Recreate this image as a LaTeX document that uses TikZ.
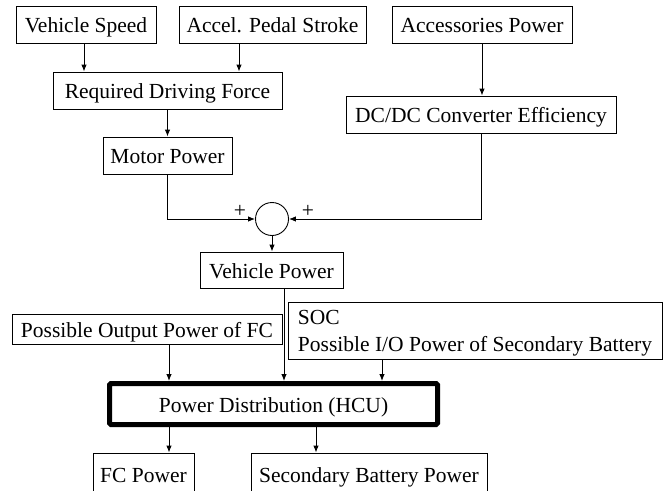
\documentclass[tikz,border=0pt]{standalone}
\usepackage{fontspec}
\setmainfont{Liberation Serif}
\usetikzlibrary{arrows.meta,calc}
\begin{document}
\begin{tikzpicture}[x=1pt,y=-1pt,
  font=\fontsize{21.5}{27}\selectfont,
  box/.style={draw, line width=0.9pt, inner sep=0pt, rectangle, minimum height=37pt, text height=20.6pt, text depth=4.3pt},
  arr/.style={-{Latex[length=7pt,width=5.5pt]}, line width=0.9pt},
  hcubox/.style={draw, line width=5pt, rounded corners=1.5pt, inner sep=0pt, rectangle, text height=20.6pt, text depth=4.3pt}]
\useasboundingbox (0,0) rectangle (669,490);
\clip (0,0) rectangle (669,490);
% top row
\node[box, minimum width=140pt] (vs) at (86,24.5) {Vehicle Speed};
\node[box, minimum width=187pt] (aps) at (272.5,24.5) {Accel. Pedal Stroke};
\node[box, minimum width=180pt] (ap) at (482,24.5) {Accessories Power};
% second level
\node[box, minimum width=229pt] (rdf) at (167.5,90.5) {Required Driving Force};
\node[box, minimum width=270pt] (dcdc) at (481,114.5) {DC/DC Converter Efficiency};
\node[box, minimum width=129pt] (mp) at (167.5,155.5) {Motor Power};
% summing junction
\node[draw, circle, line width=0.9pt, minimum size=33pt, inner sep=0pt] (sum) at (272,219) {};
\node (pl) at (240,211) {+};
\node (pr) at (308,211) {+};
% vehicle power
\node[box, minimum width=143pt, minimum height=36pt] (vp) at (271.5,270) {Vehicle Power};
% inputs to HCU
\node[box, minimum width=270pt, minimum height=30pt] (pof) at (147,329) {Possible Output Power of FC};
\node[draw, line width=0.9pt, rectangle, inner sep=0pt, minimum width=374pt, minimum height=57pt] (soc) at (475,330.5) {};
\node[align=left, inner sep=0pt] (soctext) at (475,333.5) {SOC\\Possible I/O Power of Secondary Battery};
% HCU
\node[hcubox, minimum width=328pt, minimum height=41pt] (hcu) at (273.5,404) {Power Distribution (HCU)};
% outputs
\node[box, minimum width=101pt, minimum height=42pt] (fcp) at (143.5,474) {FC Power};
\node[box, minimum width=236pt, minimum height=42pt] (sbp) at (369,474) {Secondary Battery Power};
% arrow x positions
\coordinate (xvs) at (84,0);
\coordinate (xaps) at (239,0);
\coordinate (xvp) at (284,0);
\coordinate (xfc) at (169,0);
\coordinate (xsoc) at (382,0);
\coordinate (xsb) at (316,0);
% connectors
\draw[arr] (vs.south -| xvs) -- (rdf.north -| xvs);
\draw[arr] (aps.south -| xaps) -- (rdf.north -| xaps);
\draw[arr] (ap.south) -- (ap.south |- dcdc.north);
\draw[arr] (rdf.south) -- (mp.north);
\draw[arr] (mp.south) |- (sum.west);
\draw[arr] (dcdc.south) |- (sum.east);
\draw[arr] (sum.south) -- (sum.south |- vp.north);
\draw[arr] (vp.south -| xvp) -- (hcu.north -| xvp);
\draw[arr] (pof.south -| xfc) -- (hcu.north -| xfc);
\draw[arr] (soc.south -| xsoc) -- (hcu.north -| xsoc);
\draw[arr] (hcu.south -| xfc) -- (fcp.north -| xfc);
\draw[arr] (hcu.south -| xsb) -- (sbp.north -| xsb);
\end{tikzpicture}
\end{document}
